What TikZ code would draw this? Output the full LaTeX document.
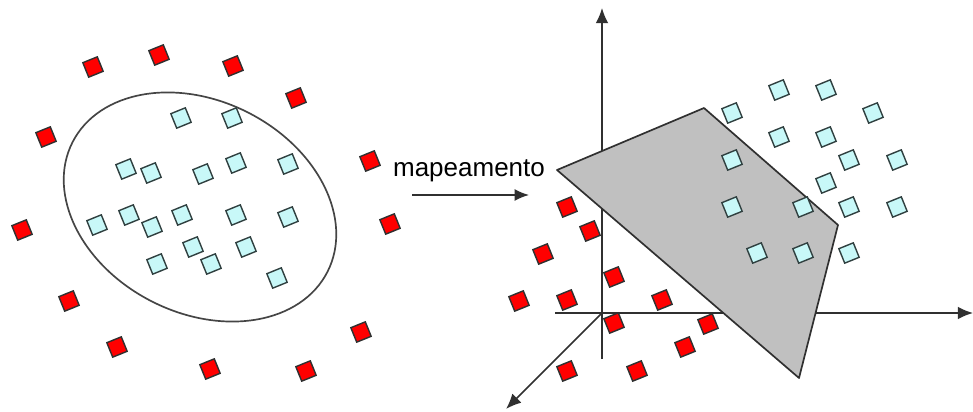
\documentclass[tikz,border=0pt]{standalone}
\usepackage{fontspec}
\setmainfont{Liberation Sans}
\usetikzlibrary{arrows.meta}
\definecolor{redsq}{HTML}{FF0000}
\definecolor{cyansq}{HTML}{C8F8F8}
\definecolor{edgec}{HTML}{303030}
\definecolor{cyedge}{HTML}{304040}
\definecolor{planefill}{HTML}{C0C0C0}
\tikzset{
  rsq/.style={draw=edgec, fill=redsq, line width=1pt, rotate=22, minimum size=0.39cm, inner sep=0pt, outer sep=0pt},
  csq/.style={draw=cyedge, fill=cyansq, line width=1pt, rotate=22, minimum size=0.39cm, inner sep=0pt, outer sep=0pt},
  axisline/.style={draw=edgec, line width=1.2pt, -{Latex[length=0.38cm,width=0.32cm]}},
}
\begin{document}
\begin{tikzpicture}[x=0.025cm,y=-0.025cm]
\useasboundingbox (0,0) rectangle (973,412);
% ---------- left: ellipse ----------
\draw[draw=edgec!90, line width=1.2pt, rotate around={-26.9:(200,207)}] (200,207) ellipse [x radius=143, y radius=106];
% red squares left
\foreach \x/\y [count=\i] in {93/67,159/55,233/66,296/98,46/137,370/161,22/230,390/224,69/301,361/332,117/347,210/369,306/371}
  \node[rsq] (lr\i) at (\x,\y) {};
% cyan squares left
\foreach \x/\y [count=\i] in {181/118,232/118,126/169,151/173,203/174,236/163,288/164,97/225,129/215,152/227,182/215,236/215,288/217,193/247,246/247,157/264,211/264,277/278}
  \node[csq] (lc\i) at (\x,\y) {};
% ---------- mapping arrow ----------
\node[font=\fontsize{18.5}{22}\selectfont, inner sep=0pt] (lbl) at (469,171) {mapeamento};
\coordinate (ma) at (412,195);
\coordinate (mb) at (529,195);
\draw[axisline, -{Latex[length=0.36cm,width=0.3cm]}] (ma) -- (mb);
% ---------- right: axes ----------
\coordinate (o) at (602,313);
\coordinate (ytop) at (602,8);
\coordinate (ybot) at (602,359);
\coordinate (xleft) at (555,313);
\coordinate (xright) at (973,313);
\coordinate (zend) at (506,409);
\draw[axisline] (ybot) -- (ytop);
\draw[axisline] (xleft) -- (xright);
\draw[axisline] (o) -- (zend);
% plane
\draw[draw=edgec, fill=planefill, line width=1.2pt, line join=round] (557,170) -- (704,108) -- (838,225) -- (799,378) -- cycle;
% red squares right
\foreach \x/\y [count=\i] in {567/207,590/231,543/254,614/277,519/301,567/300,662/300,614/323,708/324,685/347,567/371,637/371}
  \node[rsq] (rr\i) at (\x,\y) {};
% cyan squares right
\foreach \x/\y [count=\i] in {732/113,779/90,826/90,873/113,779/137,826/137,732/160,849/160,897/160,826/183,732/207,803/207,849/207,897/207,757/253,803/253,849/253}
  \node[csq] (rc\i) at (\x,\y) {};
\end{tikzpicture}
\end{document}
